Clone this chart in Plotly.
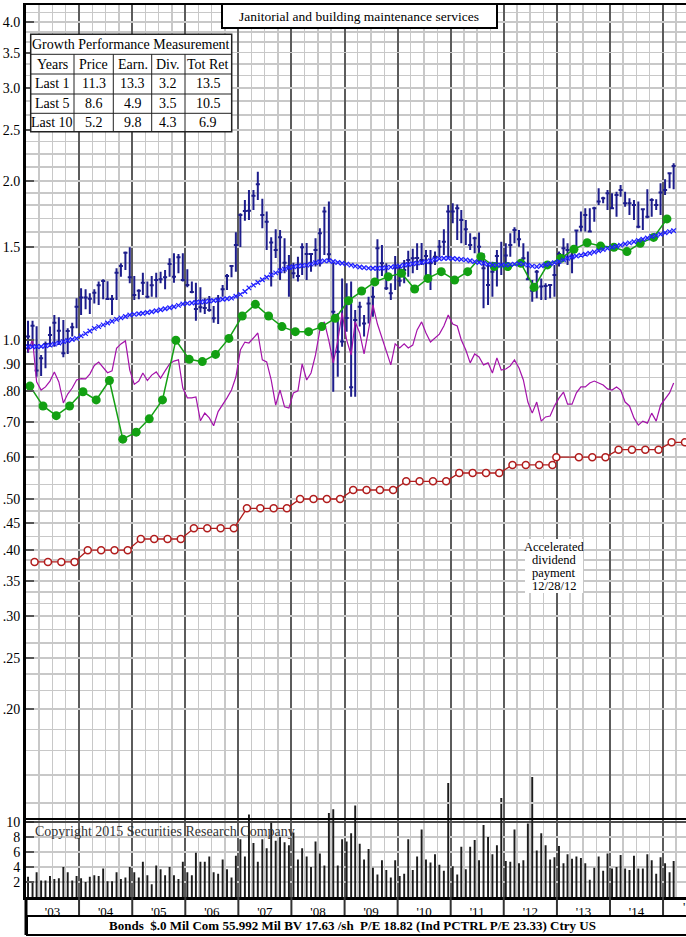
import plotly.graph_objects as go

# ---------------- data ----------------
price_high = [
    1.088, 1.088, 1.062, 0.937, 0.993, 1.060, 1.115, 1.104, 1.091, 1.052, 1.078, 1.199,  # 2003
    1.253, 1.247, 1.226, 1.247, 1.290, 1.303, 1.292, 1.217, 1.367, 1.397, 1.470, 1.498,  # 2004
    1.322, 1.247, 1.341, 1.290, 1.322, 1.341, 1.347, 1.357, 1.428, 1.459, 1.455, 1.459,  # 2005
    1.361, 1.290, 1.284, 1.258, 1.199, 1.211, 1.160, 1.217, 1.271, 1.333, 1.387, 1.600,  # 2006
    1.737, 1.841, 1.923, 1.923, 2.083, 1.850, 1.750, 1.565, 1.620, 1.615, 1.558, 1.449,  # 2007
    1.400, 1.438, 1.524, 1.527, 1.459, 1.558, 1.627, 1.788, 1.828, 1.400, 1.123, 1.308,  # 2008
    1.280, 1.290, 1.140, 1.182, 1.115, 1.208, 1.262, 1.551, 1.513, 1.397, 1.280, 1.442,  # 2009
    1.387, 1.417, 1.476, 1.488, 1.524, 1.527, 1.480, 1.480, 1.470, 1.546, 1.620, 1.801,  # 2010
    1.815, 1.806, 1.762, 1.688, 1.592, 1.569, 1.597, 1.459, 1.397, 1.407, 1.480, 1.535,  # 2011
    1.524, 1.592, 1.634, 1.615, 1.524, 1.470, 1.299, 1.357, 1.308, 1.280, 1.271, 1.387,  # 2012
    1.470, 1.558, 1.524, 1.502, 1.615, 1.750, 1.775, 1.775, 1.788, 1.937, 1.868, 1.923,  # 2013
    1.895, 1.909, 1.965, 1.909, 1.854, 1.841, 1.828, 1.775, 1.929, 1.854, 1.846, 1.980,  # 2014
    2.015, 2.068, 2.160,                                                                 # 2015
]
price_low = [
    0.946, 0.971, 0.852, 0.855, 0.884, 0.971, 0.971, 0.978, 0.927, 0.941, 1.015, 1.052,
    1.115, 1.143, 1.120, 1.173, 1.165, 1.194, 1.191, 1.115, 1.191, 1.318, 1.357, 1.280,
    1.191, 1.194, 1.217, 1.199, 1.208, 1.204, 1.280, 1.247, 1.318, 1.284, 1.337, 1.290,
    1.258, 1.226, 1.088, 1.127, 1.120, 1.131, 1.078, 1.072, 1.208, 1.244, 1.314, 1.347,
    1.500, 1.682, 1.688, 1.762, 1.841, 1.627, 1.480, 1.262, 1.430, 1.299, 1.337, 1.208,
    1.308, 1.290, 1.328, 1.299, 1.347, 1.377, 1.377, 1.449, 1.417, 0.798, 0.852, 0.971,
    1.037, 0.781, 0.781, 1.060, 1.015, 1.075, 1.107, 1.280, 1.322, 1.244, 1.191, 1.244,
    1.262, 1.280, 1.318, 1.337, 1.357, 1.387, 1.328, 1.244, 1.387, 1.434, 1.449, 1.427,
    1.663, 1.546, 1.524, 1.513, 1.480, 1.459, 1.407, 1.148, 1.165, 1.208, 1.262, 1.328,
    1.377, 1.438, 1.524, 1.502, 1.417, 1.299, 1.182, 1.199, 1.191, 1.191, 1.199, 1.208,
    1.377, 1.417, 1.387, 1.337, 1.502, 1.604, 1.604, 1.604, 1.675, 1.801, 1.815, 1.762,
    1.775, 1.712, 1.868, 1.788, 1.724, 1.687, 1.627, 1.615, 1.700, 1.712, 1.762, 1.724,
    1.882, 1.937, 1.929,
]
price_close = [
    1.015, 1.064, 0.875, 0.923, 0.983, 1.022, 1.078, 1.041, 0.944, 1.040, 1.057, 1.156,
    1.203, 1.203, 1.197, 1.229, 1.269, 1.293, 1.195, 1.195, 1.341, 1.381, 1.463, 1.314,
    1.217, 1.240, 1.284, 1.208, 1.269, 1.299, 1.303, 1.314, 1.393, 1.318, 1.434, 1.299,
    1.271, 1.233, 1.145, 1.153, 1.150, 1.140, 1.099, 1.194, 1.247, 1.322, 1.381, 1.513,
    1.724, 1.755, 1.757, 1.876, 1.971, 1.724, 1.675, 1.530, 1.480, 1.565, 1.400, 1.367,
    1.337, 1.322, 1.498, 1.455, 1.455, 1.480, 1.592, 1.750, 1.453, 1.131, 0.950, 0.993,
    1.100, 0.814, 1.091, 1.156, 1.075, 1.173, 1.208, 1.491, 1.397, 1.253, 1.226, 1.373,
    1.295, 1.357, 1.417, 1.428, 1.430, 1.417, 1.442, 1.397, 1.438, 1.502, 1.535, 1.750,
    1.750, 1.775, 1.688, 1.620, 1.513, 1.558, 1.502, 1.367, 1.271, 1.347, 1.442, 1.387,
    1.446, 1.513, 1.615, 1.551, 1.428, 1.303, 1.240, 1.347, 1.262, 1.265, 1.271, 1.328,
    1.455, 1.491, 1.480, 1.438, 1.611, 1.639, 1.724, 1.604, 1.775, 1.828, 1.854, 1.895,
    1.775, 1.882, 1.923, 1.815, 1.815, 1.801, 1.639, 1.768, 1.712, 1.841, 1.801, 1.901,
    1.923, 2.068, 2.135,
]
moving_avg = [
    0.971, 0.971, 0.972, 0.972, 0.975, 0.978, 0.982, 0.987, 0.993, 0.998, 1.002, 1.007,
    1.018, 1.028, 1.040, 1.052, 1.060, 1.068, 1.077, 1.085, 1.094, 1.101, 1.108, 1.115,
    1.118, 1.121, 1.124, 1.127, 1.131, 1.136, 1.141, 1.146, 1.151, 1.156, 1.163, 1.170,
    1.173, 1.175, 1.178, 1.180, 1.182, 1.185, 1.188, 1.191, 1.194, 1.197, 1.200, 1.210,
    1.220, 1.235, 1.255, 1.270, 1.285, 1.300, 1.315, 1.328, 1.340, 1.352, 1.362, 1.372,
    1.376, 1.380, 1.383, 1.386, 1.392, 1.400, 1.406, 1.412, 1.413, 1.408, 1.402, 1.397,
    1.392, 1.386, 1.380, 1.375, 1.371, 1.368, 1.367, 1.367, 1.368, 1.371, 1.374, 1.377,
    1.381, 1.386, 1.390, 1.394, 1.398, 1.402, 1.407, 1.413, 1.420, 1.425, 1.428, 1.428,
    1.426, 1.423, 1.421, 1.418, 1.413, 1.407, 1.402, 1.397, 1.391, 1.387, 1.386, 1.386,
    1.387, 1.389, 1.392, 1.395, 1.392, 1.386, 1.380, 1.377, 1.382, 1.388, 1.394, 1.400,
    1.408, 1.418, 1.428, 1.436, 1.442, 1.447, 1.453, 1.459, 1.467, 1.475, 1.483, 1.491,
    1.498, 1.505, 1.512, 1.519, 1.527, 1.535, 1.544, 1.551, 1.560, 1.570, 1.578, 1.586,
    1.596, 1.604, 1.611,
]
rel_strength = [
    0.950, 1.003, 0.833, 0.804, 0.815, 0.836, 0.870, 0.833, 0.760, 0.790, 0.811, 0.840,
    0.845, 0.844, 0.862, 0.895, 0.908, 0.885, 0.867, 0.874, 0.964, 0.983, 0.996, 0.877,
    0.824, 0.836, 0.866, 0.838, 0.858, 0.870, 0.847, 0.874, 0.901, 0.912, 0.917, 0.811,
    0.777, 0.777, 0.780, 0.703, 0.727, 0.712, 0.688, 0.732, 0.753, 0.777, 0.804, 0.851,
    0.957, 0.991, 0.987, 1.009, 1.031, 0.917, 0.909, 0.840, 0.753, 0.804, 0.747, 0.743,
    0.794, 0.801, 0.901, 0.840, 0.866, 0.937, 1.045, 1.082, 0.996, 0.905, 0.996, 1.125,
    1.000, 0.937, 1.082, 1.031, 0.941, 1.045, 1.165, 1.072, 1.009, 0.949, 0.897, 0.983,
    0.966, 0.983, 0.966, 0.978, 1.045, 1.082, 1.031, 0.991, 1.009, 1.026, 1.063, 1.115,
    1.072, 1.063, 1.000, 0.957, 0.905, 0.941, 0.929, 0.897, 0.905, 0.866, 0.925, 0.877,
    0.881, 0.893, 0.917, 0.885, 0.840, 0.763, 0.727, 0.763, 0.702, 0.715, 0.718, 0.750,
    0.776, 0.797, 0.756, 0.756, 0.794, 0.815, 0.815, 0.829, 0.836, 0.829, 0.822, 0.808,
    0.804, 0.815, 0.804, 0.763, 0.750, 0.712, 0.690, 0.702, 0.696, 0.727, 0.702, 0.753,
    0.773, 0.794, 0.829,
]
volume = [
    2.7, 1.9, 3.3, 2.2, 2.2, 2.8, 2.4, 2.5, 4.0, 3.3, 2.2, 2.8,
    2.5, 2.0, 2.7, 2.9, 2.8, 3.8, 2.1, 2.1, 3.3, 2.4, 2.6, 4.0,
    3.3, 2.6, 4.7, 2.9, 1.7, 4.2, 3.7, 2.9, 4.0, 2.9, 2.4, 4.7,
    3.3, 2.9, 5.9, 4.7, 4.7, 5.4, 3.3, 3.1, 5.0, 3.7, 2.6, 5.5,
    7.7, 5.4, 11.0, 7.2, 4.7, 7.7, 6.5, 9.9, 7.5, 8.0, 7.3, 6.9,
    8.6, 5.0, 6.5, 5.4, 4.0, 7.4, 5.8, 4.2, 11.2, 11.7, 4.2, 7.7,
    7.4, 8.5, 12.2, 7.1, 5.0, 6.4, 3.9, 3.0, 4.9, 3.6, 2.6, 4.9,
    2.8, 3.1, 7.7, 3.6, 5.4, 9.0, 5.0, 4.6, 5.7, 4.3, 3.5, 15.2,
    4.1, 3.0, 6.7, 3.7, 6.7, 7.6, 4.9, 9.6, 8.0, 5.7, 6.9, 13.2,
    4.8, 4.7, 9.0, 4.5, 4.9, 9.8, 16.0, 6.2, 8.5, 6.9, 5.0, 5.3,
    6.8, 4.5, 5.7, 5.1, 5.4, 5.2, 4.5, 2.3, 3.9, 5.4, 3.5, 5.8,
    3.8, 4.0, 5.6, 3.8, 3.6, 5.5, 3.8, 3.8, 5.7, 4.9, 3.1, 5.3,
    4.5, 3.3, 4.8,
]
earnings = [
    0.818, 0.750, 0.719, 0.750,
    0.798, 0.770, 0.838, 0.649,
    0.669, 0.709, 0.770, 0.999,
    0.919, 0.910, 0.939, 1.007,
    1.110, 1.168, 1.110, 1.060,
    1.037, 1.037, 1.060, 1.099,
    1.187, 1.238, 1.288, 1.318,
    1.337, 1.249, 1.308, 1.347,
    1.299, 1.347, 1.438, 1.377,
    1.377, 1.397, 1.258, 1.387,
    1.428, 1.485, 1.528, 1.506,
    1.498, 1.470, 1.524, 1.564,
    1.695,
]
dividends = [
    0.38, 0.38, 0.38, 0.38,
    0.40, 0.40, 0.40, 0.40,
    0.42, 0.42, 0.42, 0.42,
    0.44, 0.44, 0.44, 0.44,
    0.48, 0.48, 0.48, 0.48,
    0.50, 0.50, 0.50, 0.50,
    0.52, 0.52, 0.52, 0.52,
    0.54, 0.54, 0.54, 0.54,
    0.56, 0.56, 0.56, 0.56,
    0.58, 0.58, 0.58, 0.58,
    0.60, 0.60, 0.60, 0.60,
    0.62, 0.62, 0.62, 0.62,
    0.64, 0.64,
]
accelerated_div_index = 40
accelerated_div_date = "2012-12-28"

y_tick_vals = [4.0, 3.5, 3.0, 2.5, 2.0, 1.5, 1.0, 0.9, 0.8, 0.7, 0.6, 0.5, 0.45, 0.4, 0.35, 0.3, 0.25, 0.2]
y_tick_text = ["4.0", "3.5", "3.0", "2.5", "2.0", "1.5", "1.0", ".90", ".80", ".70", ".60",
               ".50", ".45", ".40", ".35", ".30", ".25", ".20"]
y_minor_grid = [4.167, 3.833, 3.667, 3.333, 3.167, 2.833, 2.667, 2.375, 2.25, 2.125,
                1.9, 1.8, 1.7, 1.6, 1.4, 1.3, 1.2, 1.1, 0.95, 0.85, 0.75, 0.667, 0.633,
                0.567, 0.533, 0.475, 0.425, 0.383, 0.367, 0.333, 0.317, 0.283, 0.267,
                0.233, 0.217, 0.183, 0.167, 0.15, 0.133]
vol_tick_vals = [2, 4, 6, 8, 10]

title_text = "Janitorial and building maintenance services"
table_title = "Growth Performance Measurement"
table_header = ["Years", "Price", "Earn.", "Div.", "Tot Ret"]
table_periods = ["Last 1", "Last 5", "Last 10"]
growth_price = [11.3, 8.6, 5.2]
growth_earn = [13.3, 4.9, 9.8]
growth_div = [3.2, 3.5, 4.3]
growth_totret = [13.5, 10.5, 6.9]
footer_text = "Bonds  $.0 Mil Com 55.992 Mil BV 17.63 /sh  P/E 18.82 (Ind PCTRL P/E 23.33) Ctry US"
copyright_text = "Copyright 2015 Securities Research Company"
accel_note = ["Accelerated", "dividend", "payment", "12/28/12"]

# ---------------- dates ----------------
month_dates = [f"{2003 + i // 12}-{i % 12 + 1:02d}-15" for i in range(len(price_close))]
earn_dates = [f"{2003 + k // 4}-{[1, 4, 7, 10][k % 4]:02d}-28" for k in range(len(earnings))]
div_dates = [f"{2003 + k // 4}-{[3, 6, 9, 12][k % 4]:02d}-01" for k in range(len(dividends))]
div_dates[accelerated_div_index] = accelerated_div_date

FONT = "Liberation Serif"
GRID = "#c8c8c8"
YEARGRID = "#5c5c5c"
L, T, W, H = 26, 5, 660, 892   # plot area in pixels


def px(x):
    return (x - L) / W


def py(y):
    return (T + H - y) / H


fig = go.Figure()

fig.add_trace(go.Bar(x=month_dates, y=volume, xaxis="x", yaxis="y",
                     marker=dict(color="#1c1c1c", line=dict(width=0)), width=1.15e9))
fig.add_trace(go.Ohlc(x=month_dates, open=price_close, high=price_high, low=price_low,
                      close=price_close, xaxis="x2", yaxis="y2", tickwidth=0.5,
                      increasing=dict(line=dict(color="#1d1d8c", width=2)),
                      decreasing=dict(line=dict(color="#1d1d8c", width=2))))
fig.add_trace(go.Scatter(x=month_dates, y=rel_strength, mode="lines", xaxis="x2", yaxis="y2",
                         line=dict(color="#a412aa", width=1.2)))
fig.add_trace(go.Scatter(x=div_dates, y=dividends, mode="lines+markers", xaxis="x2", yaxis="y2",
                         line=dict(color="#b11d1d", width=1.3),
                         marker=dict(symbol="circle", size=7, color="white",
                                     line=dict(color="#b11d1d", width=1.5))))
fig.add_trace(go.Scatter(x=earn_dates, y=earnings, mode="lines+markers", xaxis="x2", yaxis="y2",
                         line=dict(color="#14a014", width=1.5),
                         marker=dict(size=9, color="#12a012")))
fig.add_trace(go.Scatter(x=month_dates, y=moving_avg, mode="lines+markers", xaxis="x2", yaxis="y2",
                         line=dict(color="#7070ff", width=0.6),
                         marker=dict(symbol="x-thin", size=4.5, color="#1e1eff",
                                     line=dict(color="#1e1eff", width=1.3))))

X0, X1 = "2003-01-01", "2015-06-08"


def xgrid():
    return dict(type="date", range=[X0, X1], tick0="2003-01-01", dtick="M12",
                showgrid=True, gridcolor=YEARGRID, gridwidth=2,
                minor=dict(dtick="M3", tick0="2003-01-01", showgrid=True, gridcolor=GRID, gridwidth=1.5),
                zeroline=False, rangeslider=dict(visible=False), fixedrange=True)


fig.update_layout(
    width=686, height=937,
    margin=dict(l=L, r=0, t=T, b=937 - T - H),
    paper_bgcolor="white", plot_bgcolor="rgba(0,0,0,0)",
    showlegend=False,
    font=dict(family=FONT, size=14, color="black"),
    xaxis=dict(**xgrid(), anchor="y", domain=[0, 1], tickformat="'%y", ticklabelmode="period",
               ticks="", showline=True, linecolor="black", linewidth=3,
               tickfont=dict(size=13, family=FONT)),
    yaxis=dict(domain=[0, 1], range=[0, H / 7.5], anchor="x", tickvals=vol_tick_vals,
               showgrid=True, gridcolor=GRID, gridwidth=1.5, zeroline=False, fixedrange=True,
               showline=True, linecolor="black", linewidth=3,
               ticks="inside", ticklen=8, tickwidth=2, tickcolor="#555",
               tickfont=dict(size=14, family=FONT)),
    xaxis2=dict(**xgrid(), anchor="y2", domain=[0, 1], showticklabels=False, ticks="",
                showline=True, mirror=True, linecolor="black", linewidth=2),
    yaxis2=dict(type="log", domain=[py(818), 1], range=[-0.905, 0.6342], anchor="x2",
                tickvals=y_tick_vals, ticktext=y_tick_text, fixedrange=True,
                showgrid=True, gridcolor=GRID, gridwidth=1.5, zeroline=False,
                minor=dict(tickmode="array", tickvals=y_minor_grid, showgrid=True,
                           gridcolor=GRID, gridwidth=1.5, ticks=""),
                showline=True, linecolor="black", linewidth=3,
                ticks="inside", ticklen=8, tickwidth=2, tickcolor="#555",
                tickfont=dict(size=14, family=FONT)),
)

shapes = []
# dark line at volume 10
shapes.append(dict(type="line", xref="paper", yref="y", x0=0, x1=1, y0=10, y1=10,
                   line=dict(color="#222", width=1.5)))
# year separators in date band
for yr in range(2004, 2016):
    shapes.append(dict(type="line", xref="x", yref="paper", x0=f"{yr}-01-01", x1=f"{yr}-01-01",
                       y0=py(916), y1=0, line=dict(color="#333", width=2)))
shapes.append(dict(type="line", xref="paper", yref="paper", x0=0, x1=0, y0=py(935), y1=0,
                   line=dict(color="black", width=3)))
# footer box
shapes.append(dict(type="rect", xref="paper", yref="paper", x0=px(27), x1=px(690), y0=py(935), y1=py(916),
                   line=dict(color="black", width=2), fillcolor="white"))
# title box
shapes.append(dict(type="rect", xref="paper", yref="paper", x0=px(222), x1=px(497), y0=py(28), y1=py(4),
                   line=dict(color="black", width=2), fillcolor="white", layer="above"))
# table
tx = [30.7, 74, 113.3, 151.7, 185, 231.7]
ty = [34.3, 54.3, 74, 94, 113.3, 131.7]
shapes.append(dict(type="rect", xref="paper", yref="paper", x0=px(tx[0]), x1=px(tx[-1]),
                   y0=py(ty[-1]), y1=py(ty[0]), line=dict(color="#222", width=1.5),
                   fillcolor="white", layer="above"))
for yy in ty[1:-1]:
    shapes.append(dict(type="line", xref="paper", yref="paper", x0=px(tx[0]), x1=px(tx[-1]),
                       y0=py(yy), y1=py(yy), line=dict(color="#222", width=1), layer="above"))
for xx in tx[1:-1]:
    shapes.append(dict(type="line", xref="paper", yref="paper", x0=px(xx), x1=px(xx),
                       y0=py(ty[-1]), y1=py(ty[1]), line=dict(color="#222", width=1), layer="above"))
# accelerated dividend note background
shapes.append(dict(type="rect", xref="paper", yref="paper", x0=px(525), x1=px(583), y0=py(593), y1=py(539),
                   line=dict(width=0), fillcolor="white", layer="above"))

annotations = []


def txt(text, x, y, size=14, xanchor="center", bold=False, color="black"):
    t = f"<b>{text}</b>" if bold else text
    annotations.append(dict(text=t, x=px(x), y=py(y), xref="paper", yref="paper",
                            xanchor=xanchor, yanchor="middle", showarrow=False,
                            font=dict(family=FONT, size=size, color=color)))


txt(title_text, 359.5, 16.5, size=13.5)
txt(table_title, (tx[0] + tx[-1]) / 2, 44.5, size=14)
col_c = [(tx[i] + tx[i + 1]) / 2 for i in range(5)]
row_c = [(ty[i] + ty[i + 1]) / 2 for i in range(1, 5)]
for j, h in enumerate(table_header):
    txt(h, col_c[j], row_c[0], size=14)
for i, per in enumerate(table_periods):
    vals = [per, f"{growth_price[i]:.1f}", f"{growth_earn[i]:.1f}", f"{growth_div[i]:.1f}",
            f"{growth_totret[i]:.1f}"]
    for j, v in enumerate(vals):
        txt(v, col_c[j], row_c[i + 1], size=14)
for i, line in enumerate(accel_note):
    txt(line, 554, 546.5 + i * 13.3, size=12.5)
txt(copyright_text, 33, 831, size=14, xanchor="left", color="#333")
txt(footer_text, 352, 926, size=13, bold=True)
txt("'1", 681, 906, size=13, xanchor="left")

fig.update_layout(shapes=shapes, annotations=annotations)
fig.write_html("out.html", config={"displayModeBar": False, "staticPlot": True},
               post_script="document.body.style.margin='0px';document.body.style.overflow='hidden';")
